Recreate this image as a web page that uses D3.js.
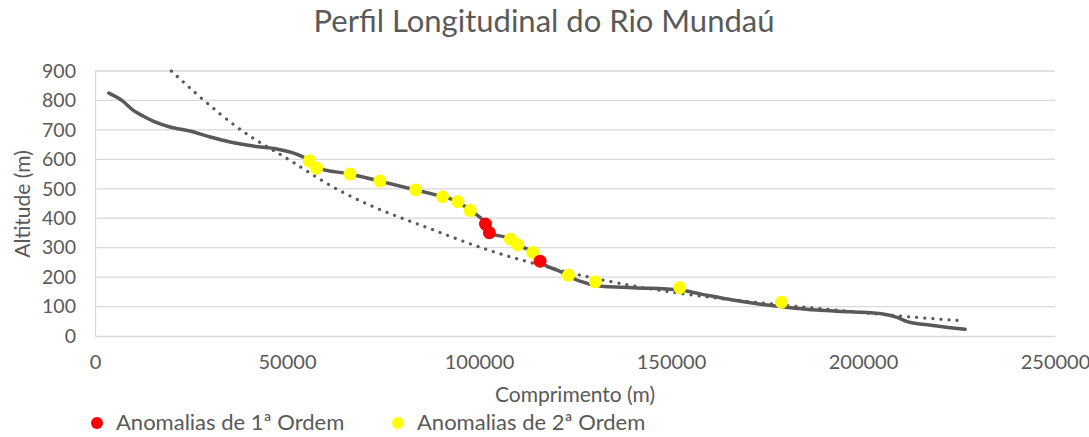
<!DOCTYPE html>
<html><head><meta charset="utf-8">
<script src="https://cdn.jsdelivr.net/npm/d3@7"></script>
<style>
html,body{margin:0;padding:0;background:#fff;}
text{font-family:Lato,"Open Sans",sans-serif;fill:#595959;}
</style></head><body>
<svg id="chart" width="1089" height="437"></svg>
<script>
// ---- data ----
const profileX = [3600,7000,9900,12500,15600,19500,24700,30000,35200,41200,47400,50800,54200,55800,57700,66400,74200,83500,90500,94500,97700,101700,102700,108200,110100,114000,115900,121300,123300,128900,131500,140100,152300,157600,166100,175000,179200,188000,196600,205200,208900,211500,218200,226600];
const profileY = [825,800,767,747,727,710,696,676,659,645,635,625,608,595,572,550,526,496,473,456,426,380,351,329,309,284,254,218,203,176,170,164,156,143,122,105,99,88,82,75,63,49,36,23];
const trendX = [19900,28200,36900,43400,50800,61200,74200,87200,100300,113300,130200,153200,174900,196600,210400,225400];
const trendY = [900,800,708,652,599,507,426,366,298,249,192,140,110,84,66,52];
const anom1X = [101700,102700,115900];
const anom1Y = [380,351,254];
const anom2X = [55800,57700,66400,74200,83500,90500,94500,97700,108200,110100,114000,123300,130300,152300,178800];
const anom2Y = [595,570,550,526,496,473,456,426,329,309,284,206,184,164,115];
const xTicks = [0,50000,100000,150000,200000,250000];
const yTicks = [0,100,200,300,400,500,600,700,800,900];
const title = "Perfil Longitudinal do Rio Mundaú";
const xTitle = "Comprimento (m)";
const yTitle = "Altitude (m)";
const legendLabels = ["Anomalias de 1ª Ordem","Anomalias de 2ª Ordem"];
const legendColors = ["#ff0000","#ffff00"];

// ---- layout ----
const svg = d3.select("#chart");
const L = 95, R = 1055, T = 71, B = 336;
const x = d3.scaleLinear().domain([0,250000]).range([L,R]);
const y = d3.scaleLinear().domain([0,900]).range([B,T]);

// gridlines
svg.append("g").selectAll("line").data(yTicks.filter(d=>d>0)).join("line")
  .attr("x1",L).attr("x2",R).attr("y1",d=>y(d)).attr("y2",d=>y(d))
  .attr("stroke","#d9d9d9").attr("stroke-width",1.3);

// axes
const xAxis = svg.append("g").attr("transform",`translate(0,${B})`)
  .call(d3.axisBottom(x).tickValues(xTicks).tickFormat(d=>String(d)).tickSize(0).tickPadding(19));
xAxis.select(".domain").attr("stroke","#d9d9d9").attr("stroke-width",1.3);
xAxis.selectAll("text").style("font-size","20px").attr("fill","#595959");

const yAxis = svg.append("g").attr("transform",`translate(${L},0)`)
  .call(d3.axisLeft(y).tickValues(yTicks).tickFormat(d=>String(d)).tickSize(0).tickPadding(19));
yAxis.select(".domain").attr("stroke","#d9d9d9").attr("stroke-width",1.3);
yAxis.selectAll("text").style("font-size","19.5px").attr("fill","#595959");

// clip
svg.append("clipPath").attr("id","plot").append("rect")
  .attr("x",L).attr("y",T-2).attr("width",R-L).attr("height",B-T+2);

// trendline (dotted)
const trend = trendX.map((d,i)=>[d,trendY[i]]);
svg.append("path").datum(trend).attr("clip-path","url(#plot)")
  .attr("d",d3.line().x(d=>x(d[0])).y(d=>y(d[1])).curve(d3.curveBasis))
  .attr("fill","none").attr("stroke","#595959").attr("stroke-width",3.2)
  .attr("stroke-linecap","round").attr("stroke-dasharray","0.1 8");

// profile line
const prof = profileX.map((d,i)=>[d,profileY[i]]);
svg.append("path").datum(prof)
  .attr("d",d3.line().x(d=>x(d[0])).y(d=>y(d[1])).curve(d3.curveMonotoneX))
  .attr("fill","none").attr("stroke","#595959").attr("stroke-width",3.5)
  .attr("stroke-linejoin","round").attr("stroke-linecap","round");

// anomalies
svg.append("g").selectAll("circle").data(anom2X.map((d,i)=>[d,anom2Y[i]])).join("circle")
  .attr("cx",d=>x(d[0])).attr("cy",d=>y(d[1])).attr("r",6.5).attr("fill",legendColors[1]);
svg.append("g").selectAll("circle").data(anom1X.map((d,i)=>[d,anom1Y[i]])).join("circle")
  .attr("cx",d=>x(d[0])).attr("cy",d=>y(d[1])).attr("r",6.5).attr("fill",legendColors[0]);

// titles
svg.append("text").attr("x",544).attr("y",32).attr("text-anchor","middle")
  .style("font-size","31px").text(title);
svg.append("text").attr("x",575).attr("y",402).attr("text-anchor","middle")
  .style("font-size","21px").text(xTitle);
svg.append("text").attr("transform","translate(30,204) rotate(-90)").attr("text-anchor","middle")
  .style("font-size","21px").text(yTitle);

// legend
const legX = [97,398];
const leg = svg.append("g");
legendLabels.forEach((lab,i)=>{
  leg.append("circle").attr("cx",legX[i]).attr("cy",423).attr("r",6).attr("fill",legendColors[i]);
  leg.append("text").attr("x",legX[i]+19).attr("y",430).style("font-size","22px").text(lab);
});
</script></body></html>
